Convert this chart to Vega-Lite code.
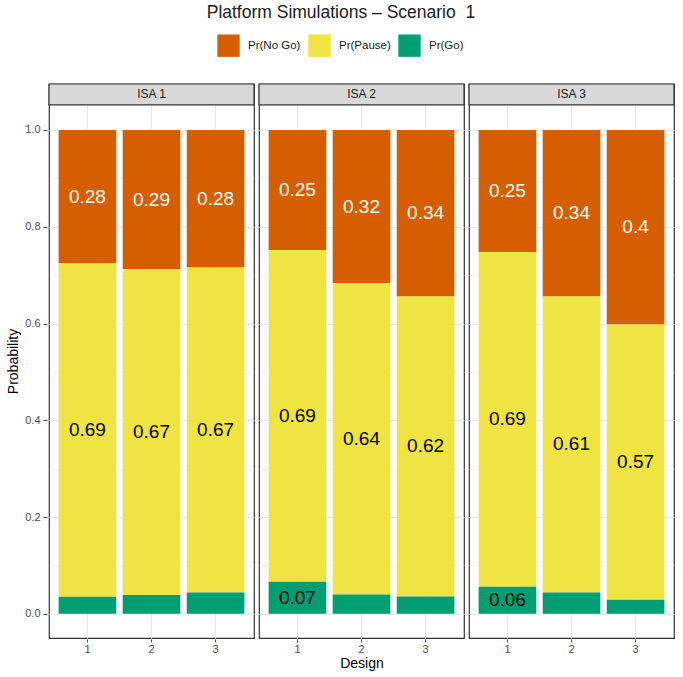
{
  "$schema": "https://vega.github.io/schema/vega-lite/v6.json",
  "padding": {"left": 6, "top": 3, "right": 6, "bottom": 2},
  "title": {"text": "Platform Simulations – Scenario \u00a01", "fontSize": 17.5, "fontWeight": "normal", "color": "#1a1a1a", "anchor": "middle", "offset": 13},
  "data": {"values": [
    {"ISA": "ISA 1", "design": 1, "outcome": "Pr(No Go)", "value": 0.276},
    {"ISA": "ISA 1", "design": 1, "outcome": "Pr(Pause)", "value": 0.689},
    {"ISA": "ISA 1", "design": 1, "outcome": "Pr(Go)", "value": 0.035},
    {"ISA": "ISA 1", "design": 2, "outcome": "Pr(No Go)", "value": 0.288},
    {"ISA": "ISA 1", "design": 2, "outcome": "Pr(Pause)", "value": 0.673},
    {"ISA": "ISA 1", "design": 2, "outcome": "Pr(Go)", "value": 0.039},
    {"ISA": "ISA 1", "design": 3, "outcome": "Pr(No Go)", "value": 0.284},
    {"ISA": "ISA 1", "design": 3, "outcome": "Pr(Pause)", "value": 0.672},
    {"ISA": "ISA 1", "design": 3, "outcome": "Pr(Go)", "value": 0.044},
    {"ISA": "ISA 2", "design": 1, "outcome": "Pr(No Go)", "value": 0.248},
    {"ISA": "ISA 2", "design": 1, "outcome": "Pr(Pause)", "value": 0.686},
    {"ISA": "ISA 2", "design": 1, "outcome": "Pr(Go)", "value": 0.066},
    {"ISA": "ISA 2", "design": 2, "outcome": "Pr(No Go)", "value": 0.317},
    {"ISA": "ISA 2", "design": 2, "outcome": "Pr(Pause)", "value": 0.643},
    {"ISA": "ISA 2", "design": 2, "outcome": "Pr(Go)", "value": 0.04},
    {"ISA": "ISA 2", "design": 3, "outcome": "Pr(No Go)", "value": 0.344},
    {"ISA": "ISA 2", "design": 3, "outcome": "Pr(Pause)", "value": 0.62},
    {"ISA": "ISA 2", "design": 3, "outcome": "Pr(Go)", "value": 0.036},
    {"ISA": "ISA 3", "design": 1, "outcome": "Pr(No Go)", "value": 0.252},
    {"ISA": "ISA 3", "design": 1, "outcome": "Pr(Pause)", "value": 0.692},
    {"ISA": "ISA 3", "design": 1, "outcome": "Pr(Go)", "value": 0.056},
    {"ISA": "ISA 3", "design": 2, "outcome": "Pr(No Go)", "value": 0.344},
    {"ISA": "ISA 3", "design": 2, "outcome": "Pr(Pause)", "value": 0.612},
    {"ISA": "ISA 3", "design": 2, "outcome": "Pr(Go)", "value": 0.044},
    {"ISA": "ISA 3", "design": 3, "outcome": "Pr(No Go)", "value": 0.402},
    {"ISA": "ISA 3", "design": 3, "outcome": "Pr(Pause)", "value": 0.569},
    {"ISA": "ISA 3", "design": 3, "outcome": "Pr(Go)", "value": 0.029}
  ]},
  "transform": [
    {"calculate": "indexof(['Pr(Go)','Pr(Pause)','Pr(No Go)'], datum.outcome)", "as": "ord"},
    {"stack": "value", "groupby": ["ISA", "design"], "sort": [{"field": "ord", "order": "ascending"}], "as": ["y0", "y1"]},
    {"calculate": "(datum.y0 + datum.y1) / 2", "as": "mid"}
  ],
  "facet": {"column": {"field": "ISA", "type": "nominal", "title": "Design",
    "header": {"labels": false, "titleOrient": "bottom", "titleFontSize": 14, "titleFontWeight": "normal", "titleColor": "#000000", "titlePadding": -7, "labelPadding": 0}}},
  "spacing": 1,
  "spec": {
    "width": 205,
    "height": 554,
    "encoding": {
      "x": {"field": "design", "type": "ordinal", "title": null,
        "scale": {"paddingInner": 0.1, "paddingOuter": 0.15},
        "axis": {"labelAngle": 0, "domain": false, "grid": true, "bandPosition": 0.5, "tickSize": 3, "labelPadding": 1}}
    },
    "layer": [
      {
        "mark": {"type": "bar", "strokeWidth": 0},
        "encoding": {
          "y": {"field": "y0", "type": "quantitative", "title": "Probability",
            "scale": {"domain": [-0.05, 1.095], "nice": false, "zero": false},
            "axis": {"values": [0, 0.1, 0.2, 0.3, 0.4, 0.5, 0.6, 0.7, 0.8, 0.9, 1.0], "format": ".1f",
              "labelExpr": "round(datum.value*10) % 2 == 0 ? datum.label : ''",
              "tickOpacity": {"condition": {"test": "round(datum.value*10) % 2 == 1", "value": 0}, "value": 1},
              "gridWidth": {"condition": {"test": "round(datum.value*10) % 2 == 1", "value": 0.5}, "value": 1},
              "domain": false, "tickSize": 4, "labelPadding": 3, "titlePadding": 4}},
          "y2": {"field": "y1"},
          "color": {"field": "outcome", "type": "nominal",
            "scale": {"domain": ["Pr(No Go)", "Pr(Pause)", "Pr(Go)"], "range": ["#D55E00", "#F0E442", "#009E73"]},
            "legend": {"title": null, "orient": "top", "direction": "horizontal", "symbolType": "square", "symbolSize": 500, "symbolStrokeWidth": 0, "labelFontSize": 11.5, "labelColor": "#1a1a1a", "columnPadding": 7, "labelOffset": 8, "offset": 25}}
        }
      },
      {
        "transform": [{"filter": "datum.outcome == 'Pr(No Go)' && datum.value >= 0.05"}],
        "mark": {"type": "text", "fontSize": 19, "color": "#ffffff"},
        "encoding": {
          "y": {"field": "mid", "type": "quantitative"},
          "text": {"field": "value", "type": "quantitative", "format": ".2~f"}
        }
      },
      {
        "transform": [{"filter": "datum.outcome != 'Pr(No Go)' && datum.value >= 0.05"}],
        "mark": {"type": "text", "fontSize": 19, "color": "#000000"},
        "encoding": {
          "y": {"field": "mid", "type": "quantitative"},
          "text": {"field": "value", "type": "quantitative", "format": ".2~f"}
        }
      },
      {
        "transform": [{"filter": "datum.outcome == 'Pr(Go)' && datum.design == 1"}],
        "mark": {"type": "rect", "fill": "#d9d9d9", "stroke": "#333333", "strokeWidth": 1.2},
        "encoding": {
          "x": {"value": 0},
          "x2": {"value": 205},
          "y": {"datum": 1.052},
          "y2": {"datum": 1.095}
        }
      },
      {
        "transform": [{"filter": "datum.outcome == 'Pr(Go)' && datum.design == 1"}],
        "mark": {"type": "text", "fontSize": 12, "color": "#1a1a1a"},
        "encoding": {
          "x": {"value": 102.5},
          "y": {"datum": 1.0735},
          "text": {"field": "ISA", "type": "nominal"}
        }
      }
    ]
  },
  "config": {
    "font": "Liberation Sans",
    "view": {"stroke": "#333333", "strokeWidth": 1.2},
    "legend": {"layout": {"top": {"anchor": "middle"}}},
    "axis": {"labelFontSize": 11, "labelColor": "#4d4d4d", "tickColor": "#4d4d4d", "gridColor": "#e8e8f0", "titleFontSize": 14, "titleFontWeight": "normal", "titleColor": "#000000"}
  }
}
